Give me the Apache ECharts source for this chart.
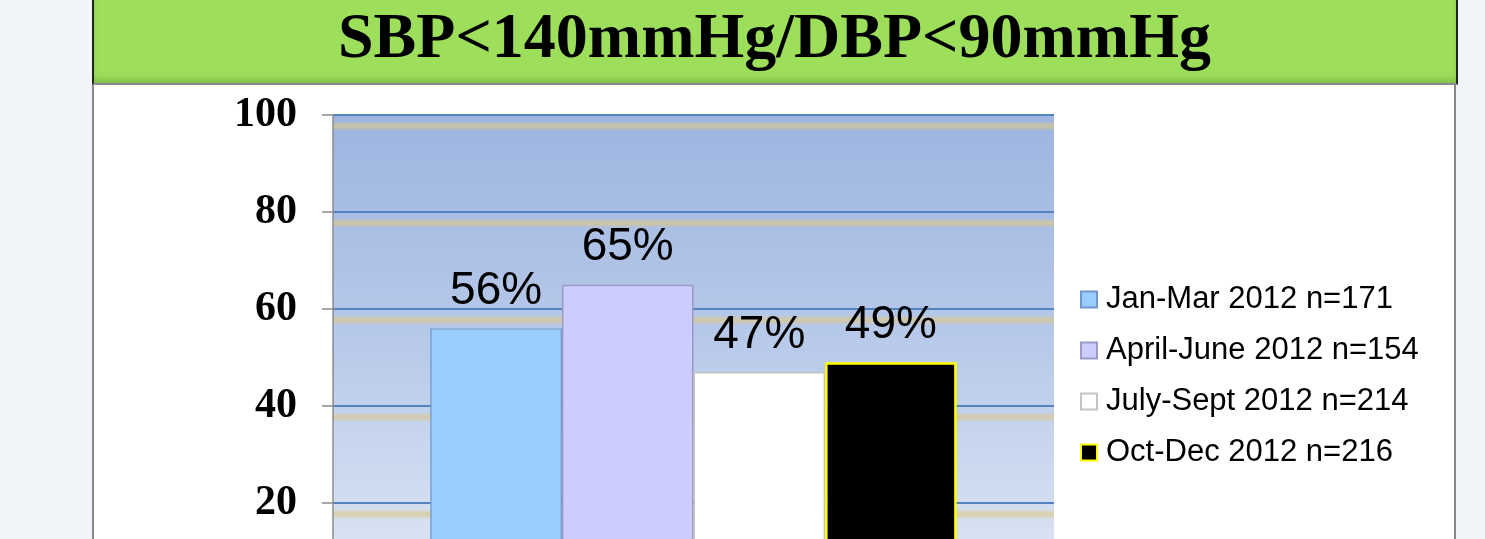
<!DOCTYPE html>
<html>
<head>
<meta charset="utf-8">
<script src="https://cdn.jsdelivr.net/npm/echarts@6/dist/echarts.min.js"></script>
<style>
  html, body { margin: 0; padding: 0; width: 1485px; height: 539px; overflow: hidden; background: #f1f5f9; }
  #band { position: absolute; left: 92px; top: 0; width: 1362px; height: 83px; background: #9ddf5a;
          border-left: 2px solid #222; border-right: 2px solid #222; border-bottom: 2px solid #8a8a8a;
          box-shadow: inset 0 -6px 6px -2px rgba(60,110,30,0.28); }
  #panel { position: absolute; left: 92px; top: 85px; width: 1360px; height: 700px; background: #fff;
           border-left: 2px solid #888; border-right: 2px solid #888; }
  #chart { position: absolute; left: 0; top: 0; width: 1485px; height: 700px; }
</style>
</head>
<body>
<div id="band"></div>
<div id="panel"></div>
<div id="chart"></div>
<script>
const titleText = 'SBP<140mmHg/DBP<90mmHg';
const categories = ['2012'];
const seriesNames = ['Jan-Mar 2012 n=171', 'April-June 2012 n=154', 'July-Sept 2012 n=214', 'Oct-Dec 2012 n=216'];
const seriesValues = [56, 65, 47, 49];
const yTicks = [0, 20, 40, 60, 80, 100];

const fills = ['#99ccff', '#ccccff', '#ffffff', '#000000'];
const borders = ['#6f97c8', '#9a9ac6', '#c4c4c4', '#ffff00'];
const borderWidths = [1.2, 1.5, 1.5, 2.5];

function hex(c){return [parseInt(c.slice(1,3),16),parseInt(c.slice(3,5),16),parseInt(c.slice(5,7),16)];}
function toHex(a){return '#'+a.map(v=>Math.round(v).toString(16).padStart(2,'0')).join('');}
function mix(a,b,t){const A=hex(a),B=hex(b);return toHex(A.map((v,i)=>v+(B[i]-v)*t));}
const baseStops = [[0,'#9db5e0'],[0.5,'#bacbea'],[1,'#e2e9f5']];
function baseAt(o){
  for(let i=0;i<baseStops.length-1;i++){
    const [o1,c1]=baseStops[i],[o2,c2]=baseStops[i+1];
    if(o>=o1&&o<=o2) return mix(c1,c2,(o-o1)/(o2-o1));
  }
  return baseStops[baseStops.length-1][1];
}
const stops = baseStops.map(s=>({offset:s[0],color:s[1]}));
yTicks.filter(v=>v>0).forEach(v=>{
  const s=(100-v+2.3)/100, h=0.01;
  stops.push({offset:s-h,color:baseAt(s-h)});
  stops.push({offset:s-h*0.35,color:mix(baseAt(s),'#dcc88a',0.6)});
  stops.push({offset:s+h*0.35,color:mix(baseAt(s),'#dcc88a',0.6)});
  stops.push({offset:s+h,color:baseAt(s+h)});
});
stops.sort((a,b)=>a.offset-b.offset);

const chart = echarts.init(document.getElementById('chart'), null, {renderer:'canvas'});
chart.setOption({
  animation: false,
  title: {
    text: titleText, left: 333, top: 3,
    textStyle: { fontFamily: 'Liberation Serif', fontWeight: 'bold', fontSize: 64, color: '#000' }
  },
  legend: {
    orient: 'vertical', left: 1075, top: 279,
    itemWidth: 16, itemHeight: 16, itemGap: 20,
    icon: 'rect',
    textStyle: { fontFamily: 'Liberation Sans', fontSize: 31, color: '#000', padding: [0, 0, 0, 4] },
    data: seriesNames
  },
  grid: {
    left: 333, right: 431, top: 115, bottom: 100,
    show: true, borderWidth: 0,
    backgroundColor: { type: 'linear', x: 0, y: 0, x2: 0, y2: 1, colorStops: stops }
  },
  xAxis: {
    type: 'category', data: categories,
    axisLine: { show: false }, axisTick: { show: false }, axisLabel: { show: false }
  },
  yAxis: {
    type: 'value', min: 0, max: 100, interval: 20,
    axisLine: { show: true, lineStyle: { color: '#8c8c8c', width: 1.5 } },
    axisTick: { show: true, length: 11, lineStyle: { color: '#8c8c8c', width: 1.5 } },
    axisLabel: { margin: 36, padding: [6, 0, 0, 0], fontFamily: 'Liberation Serif', fontWeight: 'bold', fontSize: 42, color: '#000' },
    splitLine: { show: true, lineStyle: { color: '#5583c0', width: 2 } }
  },
  series: seriesNames.map((name, i) => ({
    name, type: 'bar', barGap: 0, barCategoryGap: '27%',
    data: [seriesValues[i]],
    itemStyle: { color: fills[i], borderColor: borders[i], borderWidth: borderWidths[i] },
    label: { show: true, position: 'top', distance: 14, formatter: '{c}%',
             fontFamily: 'Liberation Sans', fontSize: 46, color: '#000' }
  }))
});
</script>
</body>
</html>
